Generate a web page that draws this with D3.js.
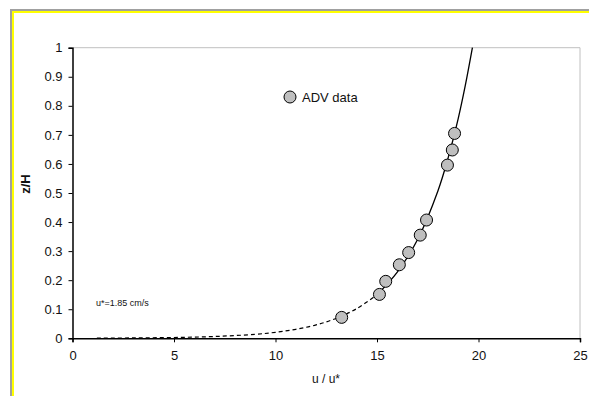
<!DOCTYPE html>
<html>
<head>
<meta charset="utf-8">
<script src="https://cdn.jsdelivr.net/npm/d3@7"></script>
<style>
  body { margin: 0; background: #fff; }
  text { font-family: "Liberation Sans", Arial, sans-serif; fill: #111; }
</style>
</head>
<body>
<svg width="589" height="396"></svg>
<script>
// ADV measurements, u/u* vs z/H
var advU = [18.82, 18.71, 18.47, 17.44, 17.13, 16.56, 16.10, 15.43, 15.12, 13.26];
var advZ = [0.705, 0.648, 0.596, 0.407, 0.355, 0.295, 0.253, 0.196, 0.151, 0.072];

// fitted profile (dashed = extrapolated part)
var fitDashedU = [1.2, 3, 5, 7, 9, 10, 11, 12, 13, 14, 15];
var fitDashedZ = [0.0006, 0.0013, 0.0028, 0.0062, 0.0138, 0.0206, 0.031, 0.046, 0.069, 0.102, 0.15];
var fitSolidU = [15, 16, 17, 18, 18.5, 19, 19.35, 19.7];
var fitSolidZ = [0.15, 0.228, 0.34, 0.507, 0.62, 0.756, 0.87, 1.0];

var xTicks = [0, 5, 10, 15, 20, 25];
var yTicks = [0, 0.1, 0.2, 0.3, 0.4, 0.5, 0.6, 0.7, 0.8, 0.9, 1];

var svg = d3.select("svg");

// frame (gray + yellow)
svg.append("rect").attr("x", 10).attr("y", 9).attr("width", 579).attr("height", 2).attr("fill", "#a0a0a0");
svg.append("rect").attr("x", 10).attr("y", 9).attr("width", 2).attr("height", 387).attr("fill", "#a0a0a0");
svg.append("rect").attr("x", 12).attr("y", 11).attr("width", 577).attr("height", 2).attr("fill", "#ffff00");
svg.append("rect").attr("x", 12).attr("y", 11).attr("width", 2).attr("height", 385).attr("fill", "#ffff00");

var x = d3.scaleLinear().domain([0, 25]).range([72.5, 580]);
var y = d3.scaleLinear().domain([0, 1]).range([338.3, 47.7]);

// plot area border (top/right light gray)
svg.append("path")
  .attr("d", "M" + x(0) + "," + y(1) + "H" + x(25) + "V" + y(0))
  .attr("fill", "none")
  .attr("stroke", "#c0c0c0")
  .attr("stroke-width", 1);

var xAxis = svg.append("g")
  .attr("transform", "translate(0," + y(0) + ")")
  .call(d3.axisBottom(x).tickValues(xTicks).tickSize(4).tickPadding(8).tickFormat(d3.format("d")));

var yAxis = svg.append("g")
  .attr("transform", "translate(" + x(0) + ",0)")
  .call(d3.axisLeft(y).tickValues(yTicks).tickSize(4).tickPadding(6).tickFormat(function(d) { return d === 0 || d === 1 ? d : d3.format(".1f")(d); }));

[xAxis, yAxis].forEach(function(g) {
  g.select(".domain").attr("stroke", "#000").attr("stroke-width", 1.5);
  g.selectAll(".tick line").attr("stroke", "#000");
  g.selectAll(".tick text").attr("font-size", 13).attr("fill", "#111")
    .attr("font-family", "Liberation Sans, Arial, sans-serif");
});

// axis titles
svg.append("text")
  .attr("x", 326).attr("y", 383)
  .attr("text-anchor", "middle")
  .attr("font-size", 12)
  .text("u / u*");

svg.append("text")
  .attr("transform", "translate(30,184) rotate(-90)")
  .attr("text-anchor", "middle")
  .attr("font-size", 13)
  .attr("font-weight", "bold")
  .text("z/H");

// fitted profile
var line = d3.line()
  .x(function(d) { return x(d[0]); })
  .y(function(d) { return y(d[1]); })
  .curve(d3.curveCatmullRom);

svg.append("path")
  .datum(d3.zip(fitDashedU, fitDashedZ))
  .attr("d", line)
  .attr("fill", "none")
  .attr("stroke", "#000")
  .attr("stroke-width", 1.2)
  .attr("stroke-dasharray", "4,3");

svg.append("path")
  .datum(d3.zip(fitSolidU, fitSolidZ))
  .attr("d", line)
  .attr("fill", "none")
  .attr("stroke", "#000")
  .attr("stroke-width", 1.3);

// data points
svg.append("g")
  .selectAll("circle")
  .data(d3.zip(advU, advZ))
  .enter()
  .append("circle")
  .attr("cx", function(d) { return x(d[0]); })
  .attr("cy", function(d) { return y(d[1]); })
  .attr("r", 6)
  .attr("fill", "#bfbfbf")
  .attr("stroke", "#000")
  .attr("stroke-width", 1);

// legend
svg.append("circle")
  .attr("cx", 290).attr("cy", 97).attr("r", 6)
  .attr("fill", "#bfbfbf").attr("stroke", "#000").attr("stroke-width", 1);
svg.append("text")
  .attr("x", 302).attr("y", 102)
  .attr("font-size", 13)
  .text("ADV data");

// annotation
svg.append("text")
  .attr("x", 96).attr("y", 306)
  .attr("font-size", 9)
  .text("u*=1.85 cm/s");
</script>
</body>
</html>
